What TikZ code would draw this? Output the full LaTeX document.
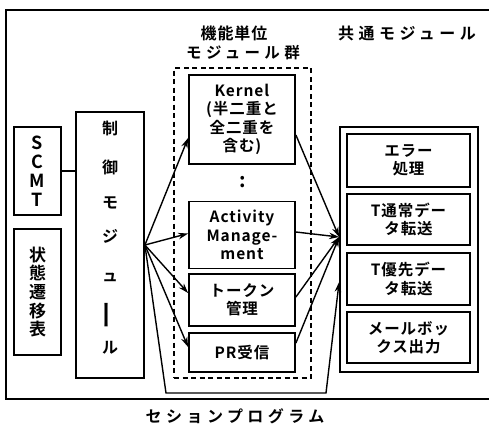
\documentclass[tikz,border=0pt]{standalone}
\usepackage{fontspec}
\setmainfont{Noto Sans CJK JP}[BoldFont={Noto Sans CJK JP Bold}]
\newfontfamily\bxfont{Noto Sans CJK JP}[BoldFont={Noto Sans CJK JP Bold},LetterSpace=6]
\newfontfamily\wdfont{Noto Sans CJK JP}[BoldFont={Noto Sans CJK JP Bold},LetterSpace=28]
\usetikzlibrary{arrows.meta,calc}
\tikzset{
  box/.style={draw, line width=1.8pt, inner sep=0pt, align=center},
  dbox/.style={draw, line width=1.7pt, dash pattern=on 5pt off 3.5pt, inner sep=0pt},
  txt/.style={font=\bxfont\bfseries\fontsize{15.5}{18.5}\selectfont, align=center},
  arr/.style={-{Stealth[length=10pt,width=6.5pt]}, line width=1.4pt},
  ln/.style={line width=1.4pt},
  frame/.style={line width=2.8pt}
}
\begin{document}
\begin{tikzpicture}[x=1pt,y=-1pt]
\useasboundingbox (0,0) rectangle (489,424);
% outer frame (open to the right)
\draw[frame] (489,10) -- (6,10) -- (6,399) -- (489,399);
% titles
\node[font=\bxfont\bfseries\fontsize{16}{18}\selectfont] (t1) at (234,33) {機能単位};
\node[font=\wdfont\bfseries\fontsize{15.5}{18}\selectfont] (t2) at (243,53) {モジュール群};
\node[font=\wdfont\bfseries\fontsize{16}{18}\selectfont] (t3) at (407,33) {共通モジュール};
\node[font=\wdfont\bfseries\fontsize{16}{18}\selectfont] (cap) at (235,416) {セションプログラム};
% left boxes
\node[box, minimum width=47pt, minimum height=88pt, font=\bfseries\fontsize{18}{19}\selectfont] (scmt) at (37.5,171) {S\\C\\M\\T};
\node[box, minimum width=47pt, minimum height=126pt, font=\bfseries\fontsize{17}{18.7}\selectfont] (state) at (37.5,292) {状\\態\\遷\\移\\表};
\node[box, minimum width=68pt, minimum height=266pt] (ctrl) at (110,245) {};
\foreach \c/\yy [count=\i] in {制/128,御/167,モ/203,ジ/236,ュ/277,{\rotatebox{90}{\scalebox{1.8}[1.3]{ー}}}/315,ル/348}
  \node[font=\bfseries\fontsize{16}{18}\selectfont] (c\i) at (110,\yy) {\c};
% middle dashed group
\node[dbox, minimum width=137pt, minimum height=310pt] (grp) at (242.5,223) {};
\node[box, txt, minimum width=106pt, minimum height=89pt] (kernel) at (242,119.5) {Kernel\\(半二重と\\全二重を\\含む)};
\node[font=\bfseries\fontsize{20}{22}\selectfont] (dots) at (243,182) {:};
\node[box, txt, minimum width=106pt, minimum height=67pt] (act) at (242,235) {Activity\\Manage-\\ment};
\node[box, txt, minimum width=106pt, minimum height=52pt] (tok) at (242,300) {トークン\\管理};
\node[box, txt, minimum width=106pt, minimum height=39pt] (pr) at (242,352.5) {PR受信};
% common modules
\node[box, minimum width=138pt, minimum height=245pt] (common) at (409,249.5) {};
\node[box, txt, minimum width=123pt, minimum height=53pt] (err) at (408.5,160.5) {エラー\\処理};
\node[box, txt, minimum width=123pt, minimum height=51pt] (tn) at (408.5,219.5) {T通常デー\\タ転送};
\node[box, txt, minimum width=123pt, minimum height=52pt] (tp) at (408.5,279) {T優先デー\\タ転送};
\node[box, txt, minimum width=123pt, minimum height=51pt] (mail) at (408.5,337.5) {メールボッ\\クス出力};
% connectors left
\draw[ln] (scmt.east) -- (scmt.east -| ctrl.west);
\draw[ln] ($(state.east)+(0,-3)$) -- ($(state.east)+(0,-3)$ -| ctrl.west);
% fan out
\coordinate (fan) at (ctrl.east);
\draw[arr] (fan) -- ($(kernel.west)+(0,18.5)$);
\draw[arr] (fan) -- ($(act.west)+(0,-1.5)$);
\draw[arr] (fan) -- ($(tok.west)+(0,-7)$);
\draw[arr] (fan) -- ($(pr.west)+(0,-5.5)$);
% converge
\coordinate (conv) at ($(common.west)+(0,-12.5)$);
\draw[arr] ($(kernel.east)+(0,15.5)$) -- (conv);
\draw[arr] ($(act.east)+(0,-3)$) -- (conv);
\draw[arr] ($(tok.east)+(0,-3)$) -- (conv);
\draw[arr] ($(pr.east)+(0,-9.5)$) -- (conv);
% bottom route
\coordinate (b1) at (166,393);
\coordinate (b2) at (326,393);
\draw[arr] (fan) -- (b1) -- (b2) -- ($(common.west)+(0,32.5)$);
\end{tikzpicture}
\end{document}
